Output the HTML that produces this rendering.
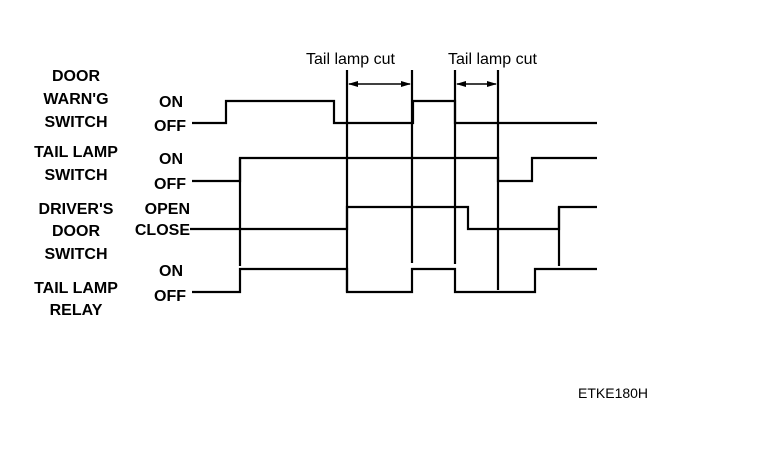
<!DOCTYPE html>
<html><head><meta charset="utf-8"><style>
html,body{margin:0;padding:0;background:#fff;}
svg{display:block;}
text{font-family:"Liberation Sans",sans-serif;fill:#000;}
.b{font-weight:bold;font-size:16px;}
</style></head><body>
<svg width="768" height="456" viewBox="0 0 768 456" xmlns="http://www.w3.org/2000/svg">
<defs>
<marker id="a" markerWidth="10" markerHeight="8" refX="9" refY="4" orient="auto-start-reverse" markerUnits="userSpaceOnUse">
<path d="M0,1 L10,4 L0,7 Z" fill="#000"/></marker>
</defs>
<g class="b" text-anchor="middle">
<text x="76" y="81">DOOR</text>
<text x="76" y="104">WARN'G</text>
<text x="76" y="127">SWITCH</text>
<text x="76" y="157">TAIL LAMP</text>
<text x="76" y="180">SWITCH</text>
<text x="76" y="214">DRIVER'S</text>
<text x="76" y="236">DOOR</text>
<text x="76" y="259">SWITCH</text>
<text x="76" y="293">TAIL LAMP</text>
<text x="76" y="315">RELAY</text>
</g>
<g class="b" text-anchor="end">
<text x="183" y="107">ON</text>
<text x="186" y="131">OFF</text>
<text x="183" y="164">ON</text>
<text x="186" y="189">OFF</text>
<text x="190" y="214">OPEN</text>
<text x="190" y="235">CLOSE</text>
<text x="183" y="276">ON</text>
<text x="186" y="301">OFF</text>
</g>
<g fill="none" stroke="#000" stroke-width="2.2">
<polyline points="192,123 226,123 226,101 334,101 334,123 413,123 413,101 455,101 455,123 597,123"/>
<polyline points="192,181 240,181 240,158 498,158 498,181 532,181 532,158 597,158"/>
<polyline points="190,229 347,229 347,207 468,207 468,229 559,229 559,207 597,207"/>
<polyline points="192,292 240,292 240,269 347,269 347,292 412,292 412,269 455,269 455,292 535,292 535,269 597,269"/>
<line x1="240" y1="158" x2="240" y2="266"/>
<line x1="347" y1="70" x2="347" y2="292"/>
<line x1="412" y1="70" x2="412" y2="263"/>
<line x1="455" y1="70" x2="455" y2="264"/>
<line x1="498" y1="70" x2="498" y2="290"/>
<line x1="559" y1="207" x2="559" y2="266"/>
<line x1="349" y1="84" x2="410" y2="84" stroke-width="1.5" marker-start="url(#a)" marker-end="url(#a)"/>
<line x1="457" y1="84" x2="496" y2="84" stroke-width="1.5" marker-start="url(#a)" marker-end="url(#a)"/>
</g>
<text x="306" y="64" font-size="16">Tail lamp cut</text>
<text x="448" y="64" font-size="16">Tail lamp cut</text>
<text x="578" y="398" font-size="14">ETKE180H</text>
</svg>
</body></html>
